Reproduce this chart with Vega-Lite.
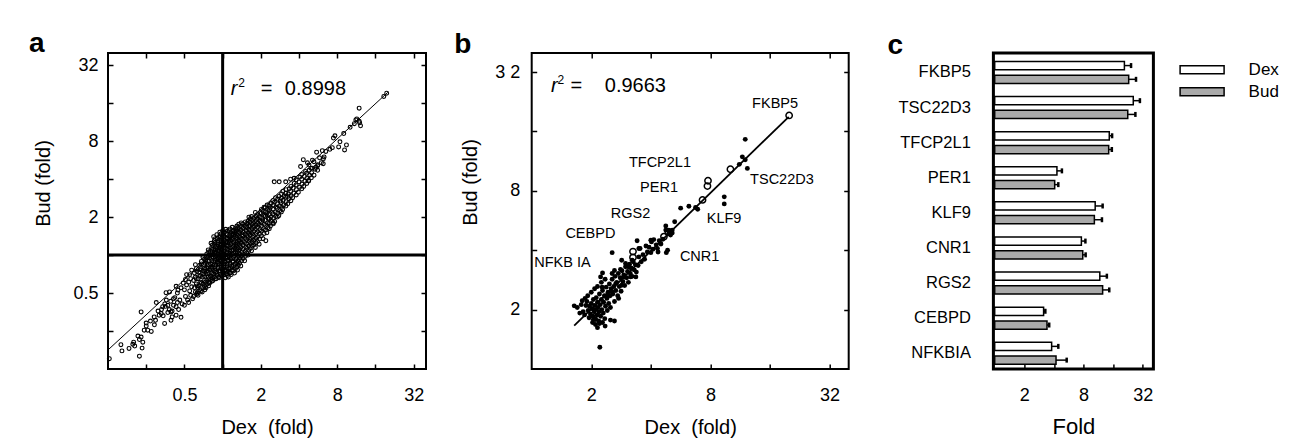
{
"$schema": "https://vega.github.io/schema/vega-lite/v6.json",
"background": "white",
"padding": {"left": 28, "top": 29, "right": 5, "bottom": 2},
"spacing": 23.7,
"config": {
  "font": "Liberation Sans",
  "view": {"stroke": "black", "strokeWidth": 2},
  "axis": {"labelFont": "Liberation Sans", "titleFont": "Liberation Sans", "labelColor": "black", "titleColor": "black", "tickColor": "black", "domain": false, "grid": false, "labelFontSize": 18, "titleFontSize": 20, "titleFontWeight": "normal", "tickSize": -5, "tickWidth": 1.5},
  "title": {"font": "Liberation Sans", "fontSize": 28, "fontWeight": "bold", "anchor": "start", "frame": "group", "color": "black", "baseline": "alphabetic", "offset": -6.5}
},
"datasets": {
  "pa": [
{"x":0.128,"y":0.151},{"x":0.161,"y":0.174},{"x":0.158,"y":0.195},{"x":0.183,"y":0.182},{"x":0.196,"y":0.196},{"x":0.199,"y":0.204},{"x":0.203,"y":0.19},{"x":0.221,"y":0.158},{"x":0.232,"y":0.183},{"x":0.235,"y":0.204},{"x":0.215,"y":0.228},{"x":0.228,"y":0.224},{"x":0.221,"y":0.214},{"x":0.228,"y":0.354},{"x":0.241,"y":0.254},{"x":0.25,"y":0.274},{"x":0.257,"y":0.254},{"x":0.274,"y":0.248},{"x":0.25,"y":0.289},{"x":0.3,"y":0.42},{"x":0.349,"y":0.287},{"x":0.296,"y":0.304},{"x":0.289,"y":0.323},{"x":0.316,"y":0.334},{"x":0.328,"y":0.344},{"x":0.337,"y":0.39},{"x":0.354,"y":0.392},{"x":0.358,"y":0.503},{"x":0.382,"y":0.51},{"x":0.43,"y":0.566},{"x":0.445,"y":0.528},{"x":0.392,"y":0.304},{"x":0.4,"y":0.323},{"x":0.392,"y":0.354},{"x":0.47,"y":0.321},{"x":0.43,"y":0.334},{"x":0.31,"y":0.36},{"x":0.33,"y":0.37},{"x":0.35,"y":0.41},{"x":0.37,"y":0.4},{"x":0.36,"y":0.44},{"x":0.39,"y":0.43},{"x":0.38,"y":0.37},{"x":0.41,"y":0.4},{"x":0.42,"y":0.46},{"x":0.44,"y":0.42},{"x":0.27,"y":0.3},{"x":0.29,"y":0.28},{"x":0.34,"y":0.33},{"x":0.37,"y":0.35},
{"x":0.40,"y":0.36},{"x":0.41,"y":0.45},{"x":0.43,"y":0.39},{"x":0.44,"y":0.5},{"x":0.45,"y":0.37},{"x":0.46,"y":0.44},{"x":0.47,"y":0.55},{"x":0.48,"y":0.41},{"x":0.49,"y":0.6},
{"x":0.50,"y":0.40},{"x":0.51,"y":0.47},{"x":0.50,"y":0.53},{"x":0.52,"y":0.58},{"x":0.51,"y":0.64},{"x":0.53,"y":0.44},{"x":0.52,"y":0.70},
{"x":0.54,"y":0.42},{"x":0.56,"y":0.48},{"x":0.55,"y":0.52},{"x":0.57,"y":0.56},{"x":0.54,"y":0.61},{"x":0.56,"y":0.65},{"x":0.55,"y":0.70},{"x":0.57,"y":0.76},{"x":0.58,"y":0.45},
{"x":0.59,"y":0.47},{"x":0.61,"y":0.51},{"x":0.60,"y":0.55},{"x":0.62,"y":0.59},{"x":0.59,"y":0.63},{"x":0.61,"y":0.67},{"x":0.60,"y":0.72},{"x":0.62,"y":0.78},{"x":0.61,"y":0.84},{"x":0.63,"y":0.5},
{"x":0.64,"y":0.48},{"x":0.66,"y":0.53},{"x":0.65,"y":0.57},{"x":0.67,"y":0.61},{"x":0.64,"y":0.65},{"x":0.66,"y":0.69},{"x":0.65,"y":0.73},{"x":0.67,"y":0.78},{"x":0.66,"y":0.83},{"x":0.68,"y":0.89},{"x":0.64,"y":0.55},
{"x":0.69,"y":0.51},{"x":0.71,"y":0.55},{"x":0.70,"y":0.59},{"x":0.72,"y":0.63},{"x":0.69,"y":0.67},{"x":0.71,"y":0.71},{"x":0.70,"y":0.75},{"x":0.72,"y":0.79},{"x":0.71,"y":0.84},{"x":0.73,"y":0.9},{"x":0.70,"y":0.96},{"x":0.72,"y":0.57},
{"x":0.74,"y":0.55},{"x":0.76,"y":0.59},{"x":0.75,"y":0.63},{"x":0.77,"y":0.67},{"x":0.74,"y":0.71},{"x":0.76,"y":0.75},{"x":0.75,"y":0.79},{"x":0.77,"y":0.84},{"x":0.74,"y":0.89},{"x":0.76,"y":0.95},{"x":0.75,"y":1.02},{"x":0.77,"y":1.1},{"x":0.78,"y":0.61},
{"x":0.79,"y":0.6},{"x":0.81,"y":0.64},{"x":0.80,"y":0.68},{"x":0.82,"y":0.72},{"x":0.79,"y":0.76},{"x":0.81,"y":0.8},{"x":0.80,"y":0.85},{"x":0.82,"y":0.9},{"x":0.79,"y":0.95},{"x":0.81,"y":1.0},{"x":0.80,"y":1.07},{"x":0.82,"y":1.15},{"x":0.81,"y":1.24},{"x":0.83,"y":0.66},
{"x":0.84,"y":0.63},{"x":0.86,"y":0.67},{"x":0.85,"y":0.71},{"x":0.87,"y":0.75},{"x":0.84,"y":0.79},{"x":0.86,"y":0.84},{"x":0.85,"y":0.89},{"x":0.87,"y":0.94},{"x":0.84,"y":1.0},{"x":0.86,"y":1.06},{"x":0.85,"y":1.12},{"x":0.87,"y":1.2},{"x":0.86,"y":1.3},{"x":0.85,"y":1.4},
{"x":0.89,"y":0.65},{"x":0.91,"y":0.69},{"x":0.90,"y":0.73},{"x":0.92,"y":0.78},{"x":0.89,"y":0.83},{"x":0.91,"y":0.88},{"x":0.90,"y":0.93},{"x":0.92,"y":0.98},{"x":0.89,"y":1.04},{"x":0.91,"y":1.1},{"x":0.90,"y":1.17},{"x":0.92,"y":1.25},{"x":0.91,"y":1.35},{"x":0.90,"y":1.45},
{"x":0.94,"y":0.66},{"x":0.96,"y":0.7},{"x":0.95,"y":0.75},{"x":0.97,"y":0.8},{"x":0.94,"y":0.85},{"x":0.96,"y":0.9},{"x":0.95,"y":0.96},{"x":0.97,"y":1.02},{"x":0.94,"y":1.08},{"x":0.96,"y":1.15},{"x":0.95,"y":1.22},{"x":0.97,"y":1.3},{"x":0.96,"y":1.4},{"x":0.95,"y":1.52},
{"x":0.99,"y":0.68},{"x":1.01,"y":0.72},{"x":1.00,"y":0.77},{"x":1.02,"y":0.82},{"x":0.99,"y":0.87},{"x":1.01,"y":0.92},{"x":1.00,"y":0.98},{"x":1.02,"y":1.04},{"x":0.99,"y":1.1},{"x":1.01,"y":1.17},{"x":1.00,"y":1.25},{"x":1.02,"y":1.33},{"x":1.01,"y":1.43},{"x":1.00,"y":1.55},
{"x":1.05,"y":0.66},{"x":1.07,"y":0.71},{"x":1.06,"y":0.76},{"x":1.08,"y":0.82},{"x":1.05,"y":0.88},{"x":1.07,"y":0.94},{"x":1.06,"y":1.0},{"x":1.08,"y":1.06},{"x":1.05,"y":1.13},{"x":1.07,"y":1.2},{"x":1.06,"y":1.28},{"x":1.08,"y":1.37},{"x":1.07,"y":1.48},{"x":1.06,"y":1.6},
{"x":1.11,"y":0.67},{"x":1.13,"y":0.72},{"x":1.12,"y":0.78},{"x":1.14,"y":0.84},{"x":1.11,"y":0.9},{"x":1.13,"y":0.96},{"x":1.12,"y":1.03},{"x":1.14,"y":1.1},{"x":1.11,"y":1.17},{"x":1.13,"y":1.25},{"x":1.12,"y":1.34},{"x":1.14,"y":1.44},{"x":1.13,"y":1.56},
{"x":1.17,"y":0.7},{"x":1.19,"y":0.76},{"x":1.18,"y":0.82},{"x":1.20,"y":0.88},{"x":1.17,"y":0.95},{"x":1.19,"y":1.02},{"x":1.18,"y":1.09},{"x":1.20,"y":1.16},{"x":1.17,"y":1.24},{"x":1.19,"y":1.33},{"x":1.18,"y":1.43},{"x":1.20,"y":1.55},{"x":1.19,"y":1.66},
{"x":1.24,"y":0.72},{"x":1.26,"y":0.78},{"x":1.25,"y":0.85},{"x":1.27,"y":0.92},{"x":1.24,"y":0.99},{"x":1.26,"y":1.06},{"x":1.25,"y":1.14},{"x":1.27,"y":1.22},{"x":1.24,"y":1.31},{"x":1.26,"y":1.41},{"x":1.25,"y":1.52},{"x":1.27,"y":1.64},
{"x":1.31,"y":0.76},{"x":1.33,"y":0.83},{"x":1.32,"y":0.9},{"x":1.34,"y":0.98},{"x":1.31,"y":1.06},{"x":1.33,"y":1.14},{"x":1.32,"y":1.23},{"x":1.34,"y":1.32},{"x":1.31,"y":1.42},{"x":1.33,"y":1.53},{"x":1.32,"y":1.65},{"x":1.34,"y":1.76},
{"x":1.39,"y":0.82},{"x":1.41,"y":0.9},{"x":1.40,"y":0.98},{"x":1.42,"y":1.06},{"x":1.39,"y":1.15},{"x":1.41,"y":1.24},{"x":1.40,"y":1.34},{"x":1.42,"y":1.45},{"x":1.39,"y":1.56},{"x":1.41,"y":1.68},{"x":1.40,"y":1.8},
{"x":1.49,"y":0.9},{"x":1.51,"y":0.98},{"x":1.50,"y":1.07},{"x":1.52,"y":1.16},{"x":1.49,"y":1.26},{"x":1.51,"y":1.36},{"x":1.50,"y":1.47},{"x":1.52,"y":1.58},{"x":1.49,"y":1.7},{"x":1.51,"y":1.83},
{"x":1.59,"y":1.0},{"x":1.61,"y":1.09},{"x":1.60,"y":1.18},{"x":1.62,"y":1.28},{"x":1.59,"y":1.38},{"x":1.61,"y":1.49},{"x":1.60,"y":1.6},{"x":1.62,"y":1.72},{"x":1.59,"y":1.86},{"x":1.61,"y":2.0},
{"x":1.69,"y":1.08},{"x":1.71,"y":1.18},{"x":1.70,"y":1.28},{"x":1.72,"y":1.39},{"x":1.69,"y":1.5},{"x":1.71,"y":1.62},{"x":1.70,"y":1.75},{"x":1.72,"y":1.88},{"x":1.69,"y":2.02},
{"x":1.81,"y":1.15},{"x":1.83,"y":1.25},{"x":1.82,"y":1.36},{"x":1.84,"y":1.48},{"x":1.81,"y":1.6},{"x":1.83,"y":1.73},{"x":1.82,"y":1.87},{"x":1.84,"y":2.02},{"x":1.81,"y":2.18},
{"x":1.94,"y":1.22},{"x":1.96,"y":1.34},{"x":1.95,"y":1.46},{"x":1.97,"y":1.59},{"x":1.94,"y":1.72},{"x":1.96,"y":1.86},{"x":1.95,"y":2.01},{"x":1.97,"y":2.17},
{"x":2.08,"y":1.35},{"x":2.12,"y":1.48},{"x":2.10,"y":1.62},{"x":2.13,"y":1.76},{"x":2.07,"y":1.9},{"x":2.11,"y":2.06},{"x":2.09,"y":2.23},{"x":2.12,"y":2.4},
{"x":2.23,"y":1.5},{"x":2.27,"y":1.65},{"x":2.25,"y":1.8},{"x":2.28,"y":1.96},{"x":2.22,"y":2.12},{"x":2.26,"y":2.3},{"x":2.24,"y":2.5},
{"x":2.38,"y":1.7},{"x":2.42,"y":1.85},{"x":2.40,"y":2.0},{"x":2.43,"y":2.18},{"x":2.37,"y":2.36},{"x":2.41,"y":2.56},
{"x":2.57,"y":1.85},{"x":2.62,"y":2.02},{"x":2.60,"y":2.2},{"x":2.63,"y":2.4},{"x":2.56,"y":2.62},{"x":2.61,"y":2.85},
{"x":2.77,"y":2.05},{"x":2.82,"y":2.25},{"x":2.80,"y":2.45},{"x":2.84,"y":2.68},{"x":2.78,"y":2.92},
{"x":2.97,"y":2.3},{"x":3.03,"y":2.5},{"x":3.00,"y":2.72},{"x":3.05,"y":2.96},{"x":2.98,"y":3.2},
{"x":3.26,"y":2.55},{"x":3.33,"y":2.8},{"x":3.30,"y":3.05},{"x":3.35,"y":3.35},
{"x":3.56,"y":2.85},{"x":3.63,"y":3.1},{"x":3.60,"y":3.4},{"x":3.66,"y":3.7},
{"x":3.95,"y":3.15},{"x":4.04,"y":3.45},{"x":4.00,"y":3.8},{"x":4.06,"y":4.15},
{"x":4.35,"y":3.5},{"x":4.45,"y":3.85},{"x":4.40,"y":4.2},
{"x":4.75,"y":3.9},{"x":4.85,"y":4.3},{"x":4.80,"y":4.7},
{"x":5.25,"y":4.3},{"x":5.35,"y":4.8},
{"x":0.625,"y":0.49},{"x":0.63,"y":0.57},{"x":0.62,"y":0.65},{"x":0.625,"y":0.74},
{"x":0.675,"y":0.52},{"x":0.68,"y":0.6},{"x":0.67,"y":0.68},{"x":0.675,"y":0.76},{"x":0.68,"y":0.85},
{"x":0.725,"y":0.53},{"x":0.73,"y":0.61},{"x":0.72,"y":0.69},{"x":0.725,"y":0.77},{"x":0.73,"y":0.86},{"x":0.72,"y":0.93},
{"x":0.775,"y":0.57},{"x":0.78,"y":0.65},{"x":0.77,"y":0.73},{"x":0.775,"y":0.81},{"x":0.78,"y":0.9},{"x":0.77,"y":0.98},{"x":0.775,"y":1.06},
{"x":0.825,"y":0.62},{"x":0.83,"y":0.7},{"x":0.82,"y":0.78},{"x":0.825,"y":0.87},{"x":0.83,"y":0.97},{"x":0.82,"y":1.04},{"x":0.825,"y":1.11},{"x":0.83,"y":1.2},
{"x":0.875,"y":0.65},{"x":0.88,"y":0.73},{"x":0.87,"y":0.81},{"x":0.875,"y":0.91},{"x":0.88,"y":0.97},{"x":0.87,"y":1.03},{"x":0.875,"y":1.09},{"x":0.88,"y":1.16},{"x":0.87,"y":1.25},{"x":0.875,"y":1.35},
{"x":0.925,"y":0.67},{"x":0.93,"y":0.75},{"x":0.92,"y":0.8},{"x":0.925,"y":0.86},{"x":0.93,"y":0.95},{"x":0.92,"y":1.01},{"x":0.925,"y":1.07},{"x":0.93,"y":1.13},{"x":0.92,"y":1.21},{"x":0.925,"y":1.29},{"x":0.93,"y":1.4},
{"x":0.975,"y":0.69},{"x":0.98,"y":0.78},{"x":0.97,"y":0.83},{"x":0.975,"y":0.89},{"x":0.98,"y":0.94},{"x":0.97,"y":1.0},{"x":0.975,"y":1.06},{"x":0.98,"y":1.12},{"x":0.97,"y":1.19},{"x":0.975,"y":1.27},{"x":0.98,"y":1.36},{"x":0.97,"y":1.47},
{"x":1.03,"y":0.7},{"x":1.035,"y":0.75},{"x":1.025,"y":0.8},{"x":1.03,"y":0.85},{"x":1.035,"y":0.9},{"x":1.025,"y":0.95},{"x":1.03,"y":1.01},{"x":1.035,"y":1.08},{"x":1.025,"y":1.15},{"x":1.03,"y":1.22},{"x":1.035,"y":1.3},{"x":1.025,"y":1.39},{"x":1.03,"y":1.5},
{"x":1.09,"y":0.69},{"x":1.095,"y":0.74},{"x":1.085,"y":0.79},{"x":1.09,"y":0.85},{"x":1.095,"y":0.91},{"x":1.085,"y":0.97},{"x":1.09,"y":1.04},{"x":1.095,"y":1.11},{"x":1.085,"y":1.18},{"x":1.09,"y":1.26},{"x":1.095,"y":1.35},{"x":1.085,"y":1.45},{"x":1.09,"y":1.55},
{"x":1.15,"y":0.72},{"x":1.155,"y":0.79},{"x":1.145,"y":0.86},{"x":1.15,"y":0.93},{"x":1.155,"y":1.0},{"x":1.145,"y":1.07},{"x":1.15,"y":1.14},{"x":1.155,"y":1.21},{"x":1.145,"y":1.29},{"x":1.15,"y":1.38},{"x":1.155,"y":1.5},{"x":1.145,"y":1.61},
{"x":1.22,"y":0.75},{"x":1.225,"y":0.82},{"x":1.215,"y":0.89},{"x":1.22,"y":0.96},{"x":1.225,"y":1.03},{"x":1.215,"y":1.1},{"x":1.22,"y":1.18},{"x":1.225,"y":1.27},{"x":1.215,"y":1.36},{"x":1.22,"y":1.46},{"x":1.225,"y":1.58},
{"x":1.29,"y":0.8},{"x":1.295,"y":0.87},{"x":1.285,"y":0.94},{"x":1.29,"y":1.02},{"x":1.295,"y":1.1},{"x":1.285,"y":1.18},{"x":1.29,"y":1.27},{"x":1.295,"y":1.37},{"x":1.285,"y":1.47},{"x":1.29,"y":1.59},{"x":1.295,"y":1.7},
{"x":1.36,"y":0.86},{"x":1.365,"y":0.94},{"x":1.355,"y":1.02},{"x":1.36,"y":1.1},{"x":1.365,"y":1.19},{"x":1.355,"y":1.28},{"x":1.36,"y":1.38},{"x":1.365,"y":1.5},{"x":1.355,"y":1.62},
{"x":1.45,"y":0.94},{"x":1.455,"y":1.02},{"x":1.445,"y":1.11},{"x":1.45,"y":1.2},{"x":1.455,"y":1.3},{"x":1.445,"y":1.41},{"x":1.45,"y":1.52},{"x":1.455,"y":1.64},{"x":1.445,"y":1.76},
{"x":1.55,"y":1.04},{"x":1.555,"y":1.13},{"x":1.545,"y":1.23},{"x":1.55,"y":1.33},{"x":1.555,"y":1.43},{"x":1.545,"y":1.54},{"x":1.55,"y":1.66},{"x":1.555,"y":1.79},
{"x":1.65,"y":1.13},{"x":1.655,"y":1.23},{"x":1.645,"y":1.33},{"x":1.65,"y":1.44},{"x":1.655,"y":1.56},{"x":1.645,"y":1.68},{"x":1.65,"y":1.81},{"x":1.655,"y":1.94},
{"x":1.76,"y":1.2},{"x":1.765,"y":1.31},{"x":1.755,"y":1.42},{"x":1.76,"y":1.54},{"x":1.765,"y":1.67},{"x":1.755,"y":1.8},{"x":1.76,"y":1.95},
{"x":1.88,"y":1.28},{"x":1.885,"y":1.4},{"x":1.875,"y":1.53},{"x":1.88,"y":1.66},{"x":1.885,"y":1.79},{"x":1.875,"y":1.93},{"x":1.88,"y":2.09},
{"x":2.02,"y":1.42},{"x":2.025,"y":1.55},{"x":2.015,"y":1.69},{"x":2.02,"y":1.83},{"x":2.025,"y":1.98},{"x":2.015,"y":2.14},{"x":2.02,"y":2.3},
{"x":2.17,"y":1.58},{"x":2.175,"y":1.72},{"x":2.165,"y":1.88},{"x":2.17,"y":2.04},{"x":2.175,"y":2.2},{"x":2.165,"y":2.38},
{"x":2.33,"y":1.62},{"x":2.335,"y":1.78},{"x":2.325,"y":1.93},{"x":2.33,"y":2.1},{"x":2.335,"y":2.28},{"x":2.325,"y":2.45},
{"x":2.5,"y":1.8},{"x":2.51,"y":1.95},{"x":2.49,"y":2.12},{"x":2.5,"y":2.3},{"x":2.51,"y":2.5},{"x":2.49,"y":2.7},
{"x":2.7,"y":2.0},{"x":2.71,"y":2.15},{"x":2.69,"y":2.35},{"x":2.7,"y":2.55},{"x":2.71,"y":2.78},
{"x":2.9,"y":2.2},{"x":2.91,"y":2.38},{"x":2.89,"y":2.6},{"x":2.9,"y":2.82},{"x":2.91,"y":3.05},
{"x":3.15,"y":2.45},{"x":3.16,"y":2.65},{"x":3.14,"y":2.88},{"x":3.15,"y":3.1},{"x":3.16,"y":3.3},
{"x":3.45,"y":2.7},{"x":3.46,"y":2.95},{"x":3.44,"y":3.2},{"x":3.45,"y":3.5},
{"x":3.8,"y":3.0},{"x":3.81,"y":3.3},{"x":3.79,"y":3.6},{"x":3.8,"y":3.95},
{"x":4.2,"y":3.35},{"x":4.21,"y":3.65},{"x":4.19,"y":4.0},{"x":4.2,"y":4.35},
{"x":4.6,"y":3.7},{"x":4.61,"y":4.05},{"x":4.59,"y":4.45},
{"x":5.0,"y":4.1},{"x":5.02,"y":4.5},{"x":5.6,"y":4.7},{"x":5.62,"y":5.2},{"x":6.2,"y":5.3},{"x":6.22,"y":5.8},
{"x":18.6,"y":18.1},{"x":19.6,"y":19.2},{"x":11.9,"y":14.6},{"x":11.4,"y":12.0},{"x":12.0,"y":11.2},{"x":12.2,"y":10.6},{"x":10.9,"y":11.0},{"x":10.1,"y":10.3},{"x":7.67,"y":8.82},{"x":7.46,"y":8.46},{"x":7.31,"y":7.11},{"x":9.45,"y":7.46},{"x":9.13,"y":6.82},{"x":6.1,"y":6.73},{"x":6.5,"y":6.63},{"x":5.5,"y":6.54},{"x":5.24,"y":5.5},{"x":4.79,"y":5.17},{"x":5.1,"y":4.89},{"x":5.43,"y":4.96},{"x":4.76,"y":3.86},{"x":2.55,"y":3.81},{"x":3.25,"y":2.91},{"x":2.51,"y":1.77},{"x":2.19,"y":1.3},{"x":11.2,"y":11.8},{"x":11.9,"y":11.5},{"x":4.32,"y":5.7},{"x":4.66,"y":5.39},{"x":4.96,"y":4.89},{"x":5.1,"y":5.66},{"x":4.11,"y":5.03},{"x":4.5,"y":4.6},{"x":2.79,"y":3.81},{"x":3.14,"y":3.81},{"x":3.43,"y":4.0},{"x":3.66,"y":4.06},{"x":5.8,"y":5.9},{"x":6.3,"y":6.0},{"x":6.0,"y":5.4},{"x":5.6,"y":5.1},{"x":7.0,"y":6.9},{"x":8.4,"y":7.9},{"x":9.0,"y":9.2},{"x":8.2,"y":7.2}
  ],
  "pb": [
{"x":1.64,"y":2.09},{"x":1.70,"y":2.05},{"x":1.75,"y":1.92},{"x":1.78,"y":2.12},{"x":1.80,"y":2.22},{"x":1.82,"y":1.95},{"x":1.85,"y":1.88},{"x":1.86,"y":2.28},{"x":1.88,"y":2.10},{"x":1.90,"y":2.20},{"x":1.92,"y":2.35},{"x":1.93,"y":1.98},{"x":1.95,"y":1.82},{"x":1.96,"y":2.08},{"x":1.98,"y":1.90},{"x":2.00,"y":2.15},{"x":2.00,"y":2.45},{"x":2.02,"y":2.02},{"x":2.03,"y":1.72},{"x":2.04,"y":1.85},{"x":2.05,"y":2.25},{"x":2.05,"y":1.78},{"x":2.07,"y":1.95},{"x":2.08,"y":2.10},{"x":2.08,"y":2.55},{"x":2.10,"y":1.80},{"x":2.10,"y":1.68},{"x":2.11,"y":2.00},{"x":2.12,"y":2.30},{"x":2.14,"y":1.88},{"x":2.15,"y":2.18},{"x":2.15,"y":1.62},{"x":2.15,"y":2.62},{"x":2.16,"y":2.05},{"x":2.18,"y":1.75},{"x":2.19,"y":1.95},{"x":2.20,"y":2.40},{"x":2.20,"y":1.70},{"x":2.21,"y":1.29},{"x":2.22,"y":2.12},{"x":2.23,"y":1.85},{"x":2.23,"y":2.93},{"x":2.25,"y":2.25},{"x":2.25,"y":2.75},{"x":2.26,"y":2.00},{"x":2.27,"y":2.60},{"x":2.28,"y":2.50},{"x":2.28,"y":3.07},{"x":2.28,"y":1.72},{"x":2.30,"y":1.92},{"x":2.31,"y":2.18},{"x":2.33,"y":2.35},{"x":2.34,"y":1.80},{"x":2.35,"y":1.65},{"x":2.35,"y":2.85},{"x":2.36,"y":2.08},{"x":2.38,"y":2.60},{"x":2.40,"y":2.28},{"x":2.41,"y":1.98},{"x":2.41,"y":2.36},{"x":2.43,"y":2.45},{"x":2.45,"y":2.15},{"x":2.47,"y":2.70},{"x":2.49,"y":2.35},{"x":2.50,"y":2.05},{"x":2.50,"y":1.77},{"x":2.52,"y":2.55},{"x":2.55,"y":2.85},{"x":2.55,"y":2.46},{"x":2.55,"y":3.05},{"x":2.55,"y":3.89},{"x":2.57,"y":2.40},{"x":2.60,"y":2.62},{"x":2.62,"y":2.20},{"x":2.62,"y":3.16},{"x":2.62,"y":1.75},{"x":2.64,"y":2.95},{"x":2.66,"y":2.50},{"x":2.66,"y":2.71},{"x":2.69,"y":2.75},{"x":2.72,"y":2.35},{"x":2.74,"y":3.05},{"x":2.75,"y":2.28},{"x":2.77,"y":2.62},{"x":2.80,"y":2.90},{"x":2.81,"y":3.20},{"x":2.83,"y":2.48},{"x":2.85,"y":2.66},{"x":2.85,"y":3.56},{"x":2.86,"y":3.15},{"x":2.89,"y":2.78},{"x":2.92,"y":3.00},{"x":2.93,"y":2.93},{"x":2.95,"y":2.65},{"x":2.98,"y":3.30},{"x":2.98,"y":3.43},{"x":3.02,"y":2.90},{"x":3.05,"y":3.12},{"x":3.08,"y":2.75},{"x":3.10,"y":3.29},{"x":3.12,"y":3.40},{"x":3.15,"y":3.05},{"x":3.16,"y":2.93},{"x":3.18,"y":3.25},{"x":3.22,"y":3.56},{"x":3.22,"y":2.95},{"x":3.26,"y":3.50},{"x":3.30,"y":3.18},{"x":3.34,"y":3.38},{"x":3.36,"y":2.93},{"x":3.38,"y":3.10},{"x":3.41,"y":4.47},{"x":3.45,"y":3.35},{"x":3.48,"y":3.70},{"x":3.48,"y":4.08},{"x":3.53,"y":4.08},{"x":3.58,"y":3.50},{"x":3.65,"y":3.80},{"x":3.72,"y":3.60},{"x":3.78,"y":4.20},{"x":3.84,"y":3.92},{"x":3.92,"y":4.14},{"x":4.00,"y":3.89},{"x":4.00,"y":4.50},{"x":4.03,"y":4.41},{"x":4.10,"y":4.05},{"x":4.14,"y":4.53},{"x":4.26,"y":4.26},{"x":4.32,"y":4.08},{"x":4.35,"y":3.92},{"x":4.41,"y":4.47},{"x":4.50,"y":4.30},{"x":4.60,"y":4.55},{"x":4.79,"y":3.89},{"x":4.86,"y":4.00},{"x":4.76,"y":5.06},{"x":4.93,"y":5.06},{"x":4.93,"y":4.86},{"x":5.03,"y":4.78},{"x":5.13,"y":4.89},{"x":5.13,"y":5.06},{"x":4.76,"y":5.31},{"x":5.28,"y":5.58},{"x":5.66,"y":6.54},{"x":6.23,"y":6.68},{"x":6.73,"y":6.59},{"x":6.90,"y":6.45},{"x":9.4,"y":7.46},{"x":9.4,"y":6.87},{"x":11.2,"y":10.9},{"x":11.6,"y":11.9},{"x":12.0,"y":11.5},{"x":12.3,"y":10.4},{"x":12.0,"y":14.6},{"x":2.10,"y":1.78}
  ],
  "pbc": [
{"gene":"FKBP5","x":20.0,"y":19.3},{"gene":"TSC22D3","x":10.1,"y":10.3},{"gene":"TFCP2L1","x":7.78,"y":9.0},{"gene":"PER1","x":7.73,"y":8.46},{"gene":"KLF9","x":7.3,"y":7.2},{"gene":"CNR1","x":4.66,"y":4.69},{"gene":"RGS2","x":4.9,"y":4.95},{"gene":"CEBPD","x":3.25,"y":3.94},{"gene":"NFKBIA","x":3.25,"y":3.68}
  ],
  "pbl": [
{"label":"FKBP5","x":13.0,"y":21.1},{"label":"TSC22D3","x":12.7,"y":8.67},{"label":"TFCP2L1","x":3.10,"y":10.6},{"label":"PER1","x":3.53,"y":7.93},{"label":"RGS2","x":2.51,"y":5.84},{"label":"KLF9","x":7.67,"y":5.47},{"label":"CEBPD","x":1.48,"y":4.6},{"label":"NFKB IA","x":1.03,"y":3.29},{"label":"CNR1","x":5.61,"y":3.52}
  ],
  "pc": [
{"gene":"FKBP5","treat":"Dex","fold":20.8,"err":24.3},{"gene":"FKBP5","treat":"Bud","fold":23.0,"err":27.3},
{"gene":"TSC22D3","treat":"Dex","fold":25.6,"err":29.9},{"gene":"TSC22D3","treat":"Bud","fold":22.5,"err":26.9},
{"gene":"TFCP2L1","treat":"Dex","fold":14.6,"err":15.6},{"gene":"TFCP2L1","treat":"Bud","fold":14.4,"err":15.5},
{"gene":"PER1","treat":"Dex","fold":4.29,"err":4.82},{"gene":"PER1","treat":"Bud","fold":4.07,"err":4.43},
{"gene":"KLF9","treat":"Dex","fold":10.5,"err":12.5},{"gene":"KLF9","treat":"Bud","fold":10.3,"err":12.3},
{"gene":"CNR1","treat":"Dex","fold":7.6,"err":8.35},{"gene":"CNR1","treat":"Bud","fold":7.85,"err":8.4},
{"gene":"RGS2","treat":"Dex","fold":11.7,"err":13.8},{"gene":"RGS2","treat":"Bud","fold":12.5,"err":14.6},
{"gene":"CEBPD","treat":"Dex","fold":3.14,"err":3.27},{"gene":"CEBPD","treat":"Bud","fold":3.4,"err":3.58},
{"gene":"NFKBIA","treat":"Dex","fold":3.79,"err":4.43},{"gene":"NFKBIA","treat":"Bud","fold":4.2,"err":5.39}
  ]
},
"hconcat": [
{
  "width": 318, "height": 316,
  "title": {"text": "a", "dx": -79},
  "resolve": {"axis": {"x": "independent", "y": "independent"}},
  "layer": [
    {"data": {"name": "pa"},
     "mark": {"type": "point", "shape": "circle", "filled": false, "size": 15, "strokeWidth": 1.1, "color": "black", "opacity": 1},
     "encoding": {
       "x": {"field": "x", "type": "quantitative", "scale": {"type": "log", "domain": [0.125, 40], "nice": false},
             "axis": {"orient": "bottom", "values": [0.25,0.5,1,2,4,8,16,32], "labelExpr": "datum.value==0.5?'0.5':datum.value==2?'2':datum.value==8?'8':datum.value==32?'32':''", "title": "Dex\u00a0 (fold)", "labelPadding": 22, "titlePadding": 13}},
       "y": {"field": "y", "type": "quantitative", "scale": {"type": "log", "domain": [0.125, 40], "nice": false},
             "axis": {"orient": "left", "values": [0.25,0.5,1,2,4,8,16,32], "labelExpr": "datum.value==0.5?'0.5':datum.value==2?'2':datum.value==8?'8':datum.value==32?'32':''", "title": "Bud (fold)", "labelPadding": 15, "titlePadding": 19, "titleY": 130}}
     }},
    {"data": {"values": [{"x": 0.125, "y": 0.177}, {"x": 20, "y": 19.5}]},
     "mark": {"type": "line", "color": "black", "strokeWidth": 1},
     "encoding": {"x": {"field": "x", "type": "quantitative", "axis": null}, "y": {"field": "y", "type": "quantitative", "axis": null}}},
    {"data": {"values": [{}]},
     "mark": {"type": "rule", "color": "black", "strokeWidth": 3},
     "encoding": {"x": {"datum": 1, "type": "quantitative", "axis": {"orient": "top", "values": [0.25,0.5,1,2,4,8,16,32], "labels": false, "title": null}}}},
    {"data": {"values": [{}]},
     "mark": {"type": "rule", "color": "black", "strokeWidth": 3},
     "encoding": {"y": {"datum": 1, "type": "quantitative", "axis": {"orient": "right", "values": [0.25,0.5,1,2,4,8,16,32], "labels": false, "title": null}}}},
    {"data": {"values": [{"x": 1.16, "y": 18.7, "t": "r"}]},
     "mark": {"type": "text", "align": "left", "baseline": "alphabetic", "fontSize": 20, "fontStyle": "italic", "color": "black"},
     "encoding": {"x": {"field": "x", "type": "quantitative", "axis": null}, "y": {"field": "y", "type": "quantitative", "axis": null}, "text": {"field": "t"}}},
    {"data": {"values": [{"x": 1.33, "y": 21.4, "t": "2"}]},
     "mark": {"type": "text", "align": "left", "baseline": "alphabetic", "fontSize": 12, "color": "black"},
     "encoding": {"x": {"field": "x", "type": "quantitative", "axis": null}, "y": {"field": "y", "type": "quantitative", "axis": null}, "text": {"field": "t"}}},
    {"data": {"values": [{"x": 2.0, "y": 18.7, "t": "="}, {"x": 3.09, "y": 18.7, "t": "0.8998"}]},
     "mark": {"type": "text", "align": "left", "baseline": "alphabetic", "fontSize": 20, "color": "black"},
     "encoding": {"x": {"field": "x", "type": "quantitative", "axis": null}, "y": {"field": "y", "type": "quantitative", "axis": null}, "text": {"field": "t"}}}
  ]
},
{
  "width": 317, "height": 316,
  "title": {"text": "b", "dx": -77.4},
  "resolve": {"axis": {"x": "independent", "y": "independent"}},
  "layer": [
    {"data": {"name": "pb"},
     "mark": {"type": "point", "shape": "circle", "filled": true, "size": 24, "color": "black", "opacity": 1},
     "encoding": {
       "x": {"field": "x", "type": "quantitative", "scale": {"type": "log", "domain": [1, 40], "nice": false},
             "axis": {"orient": "bottom", "values": [2,4,8,16,32], "labelExpr": "datum.value==2?'2':datum.value==8?'8':datum.value==32?'32':''", "title": "Dex\u00a0 (fold)", "labelPadding": 22, "titlePadding": 13}},
       "y": {"field": "y", "type": "quantitative", "scale": {"type": "log", "domain": [1, 40], "nice": false},
             "axis": {"orient": "left", "values": [2,4,8,16,32], "labelExpr": "datum.value==2?'2':datum.value==8?'8':datum.value==32?'3 2':''", "title": "Bud (fold)", "labelPadding": 17, "titlePadding": 14, "titleY": 129}}
     }},
    {"data": {"values": [{"x": 1.64, "y": 1.66}, {"x": 19.9, "y": 19.0}]},
     "mark": {"type": "line", "color": "black", "strokeWidth": 1.8},
     "encoding": {"x": {"field": "x", "type": "quantitative", "axis": null}, "y": {"field": "y", "type": "quantitative", "axis": null}}},
    {"data": {"name": "pbc"},
     "mark": {"type": "point", "shape": "circle", "filled": false, "size": 40, "strokeWidth": 1.5, "color": "black", "opacity": 1},
     "encoding": {"x": {"field": "x", "type": "quantitative", "axis": {"orient": "top", "values": [2,4,8,16,32], "labels": false, "title": null}}, "y": {"field": "y", "type": "quantitative", "axis": {"orient": "right", "values": [2,4,8,16,32], "labels": false, "title": " ", "titleFontSize": 11, "titlePadding": 0}}}},
    {"data": {"name": "pbl"},
     "mark": {"type": "text", "align": "left", "baseline": "alphabetic", "fontSize": 14.5, "color": "black"},
     "encoding": {"x": {"field": "x", "type": "quantitative", "axis": null}, "y": {"field": "y", "type": "quantitative", "axis": null}, "text": {"field": "label"}}},
    {"data": {"values": [{"x": 1.25, "y": 25.5, "t": "r"}]},
     "mark": {"type": "text", "align": "left", "baseline": "alphabetic", "fontSize": 20, "fontStyle": "italic", "color": "black"},
     "encoding": {"x": {"field": "x", "type": "quantitative", "axis": null}, "y": {"field": "y", "type": "quantitative", "axis": null}, "text": {"field": "t"}}},
    {"data": {"values": [{"x": 1.35, "y": 27.7, "t": "2"}]},
     "mark": {"type": "text", "align": "left", "baseline": "alphabetic", "fontSize": 12, "color": "black"},
     "encoding": {"x": {"field": "x", "type": "quantitative", "axis": null}, "y": {"field": "y", "type": "quantitative", "axis": null}, "text": {"field": "t"}}},
    {"data": {"values": [{"x": 1.57, "y": 25.5, "t": "="}, {"x": 2.34, "y": 25.5, "t": "0.9663"}]},
     "mark": {"type": "text", "align": "left", "baseline": "alphabetic", "fontSize": 20, "color": "black"},
     "encoding": {"x": {"field": "x", "type": "quantitative", "axis": null}, "y": {"field": "y", "type": "quantitative", "axis": null}, "text": {"field": "t"}}}
  ]
},
{
  "width": 160, "height": 316,
  "title": {"text": "c", "dx": -106},
  "view": {"stroke": "black", "strokeWidth": 3},
  "data": {"name": "pc"},
  "encoding": {
    "y": {"field": "gene", "type": "nominal", "sort": ["FKBP5","TSC22D3","TFCP2L1","PER1","KLF9","CNR1","RGS2","CEBPD","NFKBIA"],
          "scale": {"paddingInner": 0.373, "paddingOuter": 0.188, "align": 0.64},
          "axis": {"title": null, "ticks": false, "labelPadding": 23, "labelFontSize": 16.5}},
    "yOffset": {"field": "treat", "type": "nominal", "sort": ["Dex","Bud"], "scale": {"paddingInner": 0.4, "paddingOuter": 0}}
  },
  "layer": [
    {"mark": {"type": "bar", "stroke": "black", "strokeWidth": 1.5},
     "encoding": {
       "x": {"field": "fold", "type": "quantitative", "scale": {"type": "log", "domain": [0.97, 41], "nice": false},
             "axis": {"orient": "bottom", "values": [2,4,8,16,32], "labelExpr": "datum.value==2?'2':datum.value==8?'8':datum.value==32?'32':''", "title": "Fold", "titleFontSize": 22, "labelPadding": 22, "titlePadding": 12}},
       "x2": {"datum": 1},
       "fill": {"field": "treat", "type": "nominal", "scale": {"domain": ["Dex","Bud"], "range": ["white","#aaaaaa"]}, "legend": null}
     }},
    {"mark": {"type": "rule", "color": "black", "strokeWidth": 1.5},
     "encoding": {"x": {"field": "fold", "type": "quantitative"}, "x2": {"field": "err"}}},
    {"mark": {"type": "tick", "color": "black", "thickness": 2.5, "size": 5, "opacity": 1},
     "encoding": {"x": {"field": "err", "type": "quantitative"}}}
  ]
},
{
  "width": 44, "height": 55.4,
  "view": {"stroke": null},
  "data": {"values": [{"treat": "Dex"}, {"treat": "Bud"}]},
  "mark": {"type": "bar", "stroke": "black", "strokeWidth": 1.5},
  "encoding": {
    "x": {"datum": 0, "type": "quantitative", "scale": {"domain": [0, 1], "nice": false}, "axis": null},
    "x2": {"datum": 1},
    "y": {"field": "treat", "type": "nominal", "sort": ["Dex","Bud"], "scale": {"paddingInner": 0.636, "paddingOuter": 0.577},
          "axis": {"orient": "right", "title": null, "ticks": false, "labelPadding": 24, "labelFontSize": 17, "labelAlign": "left"}},
    "fill": {"field": "treat", "type": "nominal", "scale": {"domain": ["Dex","Bud"], "range": ["white","#aaaaaa"]}, "legend": null}
  }
}
]
}
